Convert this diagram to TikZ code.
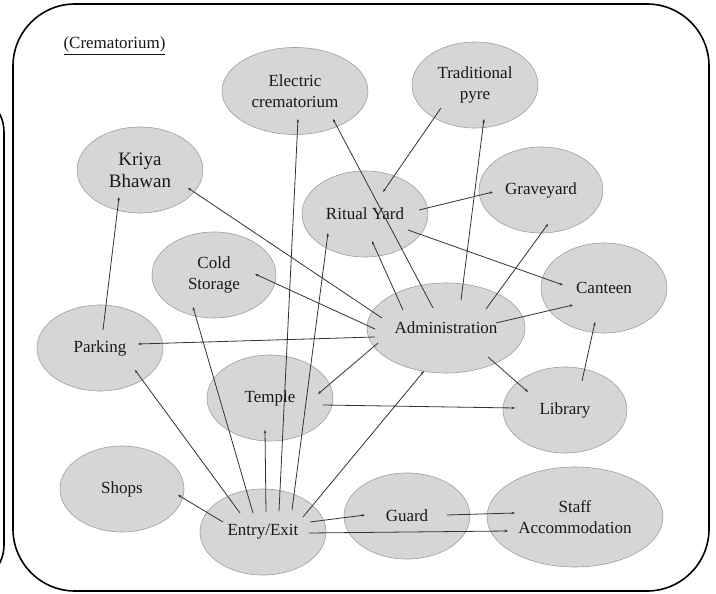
\documentclass[tikz,border=0pt]{standalone}
\usepackage{fontspec}
\setmainfont{Liberation Serif}
\usetikzlibrary{shapes.geometric,arrows.meta}
\begin{document}
\begin{tikzpicture}[x=1pt,y=-1pt,
  place/.style={ellipse,fill=black!16,draw=black!38,line width=0.6pt,inner sep=0pt,align=center,text=black!90,font=\fontsize{17}{21}\selectfont},
  link/.style={draw=black!80,line width=0.8pt,-{Stealth[length=3.5pt,width=2.6pt]}},
  frame/.style={draw=black,line width=1.6pt}]
\useasboundingbox (0,0) rectangle (716,594);
\clip (0,0) rectangle (716,594);
\fill[white] (0,0) rectangle (716,594);
\draw[frame,rounded corners=40pt] (-80,92) rectangle (4,585);
\draw[frame,rounded corners=62pt] (13,4) rectangle (709,591);
\node[anchor=base west,text=black!90,font=\fontsize{17}{20}\selectfont] (title) at (60,49) {\underline{(Crematorium)}};

\node[place,minimum width=146pt,minimum height=87pt] (elec) at (295,91) {Electric\\crematorium};
\node[place,minimum width=126pt,minimum height=86pt] (trad) at (475,85) {Traditional\\pyre};
\node[place,minimum width=126pt,minimum height=86pt,font=\fontsize{19}{22}\selectfont] (kriya) at (140,170) {Kriya\\Bhawan};
\node[place,minimum width=126pt,minimum height=86pt] (ritual) at (365,214) {Ritual Yard};
\node[place,minimum width=124pt,minimum height=86pt] (grave) at (541,190) {Graveyard};
\node[place,minimum width=124pt,minimum height=86pt] (cold) at (214,275) {Cold\\Storage};
\node[place,minimum width=126pt,minimum height=90pt] (canteen) at (604,288) {Canteen};
\node[place,minimum width=158pt,minimum height=90pt] (admin) at (446,328) {Administration};
\node[place,minimum width=126pt,minimum height=86pt] (parking) at (100,348) {Parking};
\node[place,minimum width=126pt,minimum height=86pt] (temple) at (270,398) {Temple};
\node[place,minimum width=124pt,minimum height=86pt] (library) at (565,410) {Library};
\node[place,minimum width=124pt,minimum height=86pt] (shops) at (122,489) {Shops};
\node[place,minimum width=126pt,minimum height=86pt] (entry) at (263,532) {Entry/Exit};
\node[place,minimum width=126pt,minimum height=86pt] (guard) at (407,516) {Guard};
\node[place,minimum width=176pt,minimum height=100pt] (staff) at (575,517) {Staff\\Accommodation};

\draw[link] ([shift={(3,-18)}]parking.center) -- ([shift={(-21,27)}]kriya.center);
\draw[link] ([shift={(-64,-10)}]admin.center) -- ([shift={(48,18)}]kriya.center);
\draw[link] ([shift={(16,-21)}]entry.center) -- ([shift={(3,28)}]elec.center);
\draw[link] ([shift={(-13,-20)}]admin.center) -- ([shift={(38,28)}]elec.center);
\draw[link] ([shift={(-34,23)}]trad.center) -- ([shift={(18,-22)}]ritual.center);
\draw[link] ([shift={(15,-28)}]admin.center) -- ([shift={(9,34)}]trad.center);
\draw[link] ([shift={(54,-4)}]ritual.center) -- ([shift={(-48,2)}]grave.center);
\draw[link] ([shift={(43,16)}]ritual.center) -- ([shift={(-41,-3)}]canteen.center);
\draw[link] ([shift={(-43,-18)}]admin.center) -- ([shift={(7,27)}]ritual.center);
\draw[link] ([shift={(40,-19)}]admin.center) -- ([shift={(7,34)}]grave.center);
\draw[link] ([shift={(29,-22)}]entry.center) -- ([shift={(-37,19)}]ritual.center);
\draw[link] ([shift={(-71,1)}]admin.center) -- ([shift={(41,-1)}]cold.center);
\draw[link] ([shift={(-71,9)}]admin.center) -- ([shift={(38,-4)}]parking.center);
\draw[link] ([shift={(-68,15)}]admin.center) -- ([shift={(48,-4)}]temple.center);
\draw[link] ([shift={(53,7)}]temple.center) -- ([shift={(-50,-2)}]library.center);
\draw[link] ([shift={(42,29)}]admin.center) -- ([shift={(-37,-18)}]library.center);
\draw[link] ([shift={(50,-5)}]admin.center) -- ([shift={(-31,17)}]canteen.center);
\draw[link] ([shift={(17,-29)}]library.center) -- ([shift={(-9,34)}]canteen.center);
\draw[link] ([shift={(-10,-19)}]entry.center) -- ([shift={(-21,32)}]cold.center);
\draw[link] ([shift={(-23,-19)}]entry.center) -- ([shift={(35,22)}]parking.center);
\draw[link] ([shift={(3,-20)}]entry.center) -- ([shift={(-5,32)}]temple.center);
\draw[link] ([shift={(-40,-10)}]entry.center) -- ([shift={(56,6)}]shops.center);
\draw[link] ([shift={(40,-15)}]entry.center) -- ([shift={(-22,43)}]admin.center);
\draw[link] ([shift={(47,-10)}]entry.center) -- ([shift={(-42,-1)}]guard.center);
\draw[link] ([shift={(46,1)}]entry.center) -- ([shift={(-67,14)}]staff.center);
\draw[link] ([shift={(40,-1)}]guard.center) -- ([shift={(-60,-4)}]staff.center);
\end{tikzpicture}
\end{document}
